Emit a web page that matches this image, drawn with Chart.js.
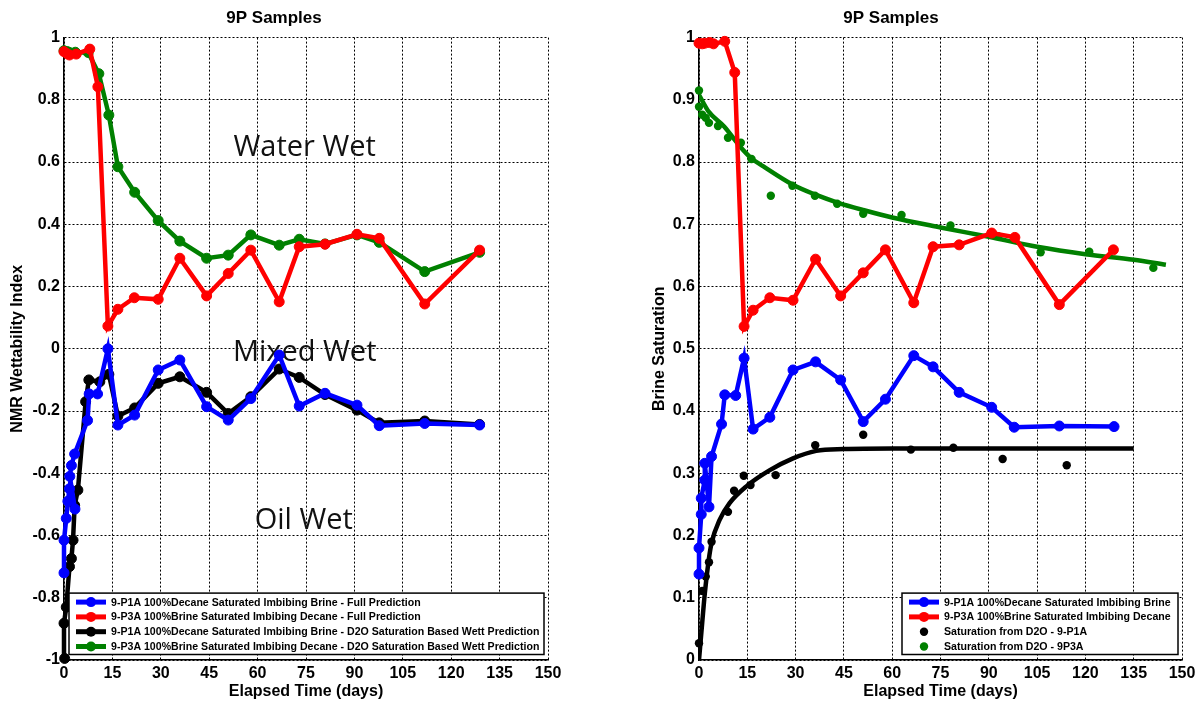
<!DOCTYPE html>
<html>
<head>
<meta charset="utf-8">
<title>9P Samples</title>
<script src="https://cdn.jsdelivr.net/npm/chart.js@4.4.0/dist/chart.umd.min.js"></script>
<style>
  body { margin: 0; background: #fff; }
  #wrap { position: relative; width: 1201px; height: 704px; }
  #left { position: absolute; left: 0; top: 0; }
  #right { position: absolute; left: 600px; top: 0; }
</style>
</head>
<body>
<div id="wrap">
  <canvas id="left" width="600" height="704"></canvas>
  <canvas id="right" width="601" height="704"></canvas>
</div>
<script>
// ---- left chart: NMR wettability index ----
var p1aFullDays = [0, 0, 0.7, 1.2, 1.7, 3.4, 1.8, 2.3, 3.3, 7.3, 7.8, 10.4, 13.6, 16.7, 21.9, 29.2, 35.9, 44.2, 50.9, 57.9, 66.7, 72.9, 80.9, 90.8, 97.7, 111.8, 128.8];
var p1aFullIndex = [-0.72, -0.615, -0.545, -0.49, -0.45, -0.515, -0.41, -0.375, -0.338, -0.23, -0.145, -0.145, 0.0, -0.245, -0.213, -0.068, -0.036, -0.186, -0.229, -0.16, -0.02, -0.184, -0.143, -0.181, -0.247, -0.24, -0.245];

var p3aFullDays = [0, 1, 1.7, 3.8, 8, 10.5, 13.6, 16.7, 21.8, 29.2, 35.9, 44.2, 50.9, 57.9, 66.7, 72.9, 80.9, 90.8, 97.7, 111.8, 128.8];
var p3aFullIndex = [0.955, 0.948, 0.944, 0.947, 0.963, 0.842, 0.073, 0.127, 0.164, 0.159, 0.291, 0.17, 0.242, 0.317, 0.151, 0.328, 0.336, 0.368, 0.355, 0.144, 0.317];

var p1aD2oDays = [0.2, 0, 0.7, 1.7, 2.3, 2.8, 3.3, 4.3, 6.7, 7.7, 11.1, 13.9, 16.7, 21.9, 29.2, 35.9, 44.2, 50.9, 57.9, 66.7, 72.9, 80.9, 90.8, 97.7, 111.8, 128.8];
var p1aD2oIndex = [-0.995, -0.882, -0.83, -0.70, -0.674, -0.615, -0.503, -0.454, -0.17, -0.10, -0.106, -0.082, -0.216, -0.19, -0.111, -0.09, -0.14, -0.208, -0.154, -0.065, -0.092, -0.147, -0.197, -0.238, -0.232, -0.243];

var p3aD2oDays = [0, 1, 1.7, 3.5, 7.5, 10.8, 13.9, 16.7, 21.9, 29.2, 35.9, 44.2, 50.9, 57.9, 66.7, 72.9, 80.9, 90.8, 97.7, 111.8, 128.8];
var p3aD2oIndex = [0.958, 0.955, 0.952, 0.953, 0.952, 0.884, 0.751, 0.585, 0.503, 0.412, 0.346, 0.291, 0.301, 0.366, 0.333, 0.352, 0.337, 0.366, 0.342, 0.248, 0.310];

// ---- right chart: brine saturation ----
var p1aSatDays = [0, 0, 0.7, 0.7, 1.8, 1.8, 3.1, 3.9, 7, 8, 11.4, 14, 16.8, 22, 29.2, 36.2, 44, 51, 57.9, 66.7, 72.7, 80.8, 90.9, 97.9, 111.9, 128.9];
var p1aSat = [0.138, 0.18, 0.234, 0.26, 0.289, 0.316, 0.246, 0.327, 0.379, 0.426, 0.425, 0.485, 0.371, 0.39, 0.466, 0.479, 0.45, 0.383, 0.419, 0.489, 0.471, 0.43, 0.406, 0.374, 0.376, 0.375];

var p3aSatDays = [0, 1, 1.8, 3.3, 4.5, 8, 11.1, 14, 16.8, 22, 29.2, 36.2, 44, 51, 57.9, 66.7, 72.7, 80.8, 90.9, 98.1, 111.9, 128.7];
var p3aSat = [0.991, 0.99, 0.991, 0.992, 0.99, 0.994, 0.944, 0.536, 0.562, 0.582, 0.578, 0.644, 0.585, 0.622, 0.659, 0.574, 0.664, 0.667, 0.686, 0.679, 0.571, 0.659];

var d2oP1aDays = [0, 1, 2.1, 3.1, 3.9, 9, 10.9, 13.9, 16, 23.8, 36.1, 51, 65.8, 79, 94.3, 114.2];
var d2oP1aSat = [0.027, 0.111, 0.134, 0.157, 0.19, 0.238, 0.272, 0.296, 0.281, 0.297, 0.345, 0.362, 0.338, 0.341, 0.323, 0.313];

var d2oP3aDays = [0, 0, 1, 2.1, 3.1, 5.9, 9, 13, 16.3, 22.3, 29, 36, 42.9, 51, 62.9, 78.1, 92.9, 106.1, 121.2, 141.1];
var d2oP3aSat = [0.915, 0.889, 0.876, 0.871, 0.863, 0.858, 0.839, 0.831, 0.805, 0.746, 0.762, 0.746, 0.733, 0.717, 0.715, 0.698, 0.681, 0.655, 0.656, 0.63];

// fitted curves
var fitP1aDays = [0, 1, 1.8, 3, 3.9, 6.4, 9.5, 14.7, 22, 29.2, 36.4, 45, 60, 135];
var fitP1aSat = [0, 0.06, 0.107, 0.16, 0.188, 0.225, 0.252, 0.279, 0.305, 0.324, 0.336, 0.339, 0.34, 0.34];

var fitP3aDays = [0, 3, 7.8, 12.6, 16.3, 20, 29, 36, 43, 51, 60, 75, 90, 105, 120, 135, 145];
var fitP3aSat = [0.908, 0.881, 0.857, 0.826, 0.806, 0.793, 0.764, 0.748, 0.735, 0.723, 0.711, 0.695, 0.68, 0.664, 0.652, 0.643, 0.635];

var BLUE = '#0000ff', RED = '#ff0000', BLACK = '#000000', GREEN = '#008000';

function pts(xs, ys) {
    return xs.map(function (x, i) { return { x: x, y: ys[i] }; });
}

function lineSet(label, xs, ys, color) {
    return {
        label: label, data: pts(xs, ys), showLine: true, clip: false,
        borderColor: color, backgroundColor: color, borderWidth: 4.5,
        pointRadius: 5, pointBorderWidth: 1, pointBackgroundColor: color, pointBorderColor: color
    };
}

function dotSet(label, xs, ys, color) {
    return {
        label: label, data: pts(xs, ys), showLine: false, clip: false,
        borderColor: color, backgroundColor: color,
        pointRadius: 4.2, pointBorderWidth: 0, pointBackgroundColor: color
    };
}

function fitSet(xs, ys, color) {
    return {
        data: pts(xs, ys), showLine: true, borderColor: color, borderWidth: 4.5,
        pointRadius: 0, cubicInterpolationMode: 'monotone'
    };
}

// legend box drawn inside the plot area, bottom right
var boxLegend = {
    id: 'boxLegend',
    afterDatasetsDraw: function (chart, args, opts) {
        var ctx = chart.ctx, area = chart.chartArea;
        var items = chart.data.datasets.filter(function (ds) { return ds.label; });
        var h = opts.firstRow + (items.length - 1) * opts.rowH + opts.lastPad;
        var x0 = area.right - opts.right - opts.width;
        var y0 = area.bottom - opts.bottom - h;
        ctx.save();
        ctx.fillStyle = '#fff';
        ctx.fillRect(x0, y0, opts.width, h);
        ctx.strokeStyle = '#000';
        ctx.lineWidth = 1.5;
        ctx.strokeRect(x0, y0, opts.width, h);
        ctx.font = opts.font;
        ctx.textBaseline = 'middle';
        items.forEach(function (ds, i) {
            var cy = y0 + opts.firstRow + i * opts.rowH;
            if (ds.showLine) {
                ctx.strokeStyle = ds.borderColor;
                ctx.lineWidth = 5;
                ctx.beginPath();
                ctx.moveTo(x0 + 7, cy);
                ctx.lineTo(x0 + 37, cy);
                ctx.stroke();
            }
            ctx.fillStyle = ds.borderColor;
            ctx.beginPath();
            ctx.arc(x0 + 22, cy, ds.pointRadius, 0, Math.PI * 2);
            ctx.fill();
            ctx.fillStyle = '#000';
            ctx.fillText(ds.label, x0 + 42, cy + 0.5);
        });
        ctx.restore();
    }
};

// wettability zone names
var zoneText = {
    id: 'zoneText',
    beforeDatasetsDraw: function (chart, args, opts) {
        if (!opts.items) return;
        var ctx = chart.ctx, sx = chart.scales.x, sy = chart.scales.y;
        ctx.save();
        ctx.font = opts.font;
        ctx.fillStyle = opts.color;
        ctx.textAlign = 'center';
        ctx.textBaseline = 'middle';
        opts.items.forEach(function (it) {
            ctx.fillText(it.text, sx.getPixelForValue(it.x), sy.getPixelForValue(it.y));
        });
        ctx.restore();
    }
};

function tickFmt(v) {
    return String(+v.toFixed(2));
}

function makeOptions(yMin, yMax, yStep, yTitle, yWidth, yTitlePad, padRight, legendWidth, zones) {
    return {
        responsive: false,
        animation: false,
        devicePixelRatio: 1,
        layout: { padding: { left: 0, right: padRight, top: 0, bottom: 0 } },
        plugins: {
            legend: { display: false },
            tooltip: { enabled: false },
            title: {
                display: true, text: '9P Samples', color: '#000',
                font: { family: 'Liberation Sans', size: 17, weight: 'bold' },
                padding: { top: 8, bottom: 9.2 }
            },
            boxLegend: {
                width: legendWidth, right: 4, bottom: 5.5, firstRow: 9, rowH: 14.8, lastPad: 8,
                font: 'bold 10.6px "Liberation Sans"'
            },
            zoneText: { items: zones, font: '29px "Open Sans"', color: '#111' }
        },
        scales: {
            x: {
                type: 'linear', min: 0, max: 150,
                ticks: { stepSize: 15, color: '#000', padding: 4, font: { family: 'Liberation Sans', size: 16, weight: 'bold' } },
                grid: { color: '#000', lineWidth: 1, drawTicks: false },
                border: { display: true, color: '#000', width: 1.5, dash: [2, 2] },
                title: {
                    display: true, text: 'Elapsed Time (days)', color: '#000',
                    font: { family: 'Liberation Sans', size: 16, weight: 'bold' }, padding: { top: 0, bottom: 3 }
                },
                afterFit: function (s) { s.height = 44; }
            },
            y: {
                type: 'linear', min: yMin, max: yMax,
                ticks: { stepSize: yStep, color: '#000', padding: 4, callback: tickFmt, font: { family: 'Liberation Sans', size: 16, weight: 'bold' } },
                grid: { color: '#000', lineWidth: 1, drawTicks: false },
                border: { display: true, color: '#000', width: 1.5, dash: [2, 2] },
                title: {
                    display: true, text: yTitle, color: '#000',
                    font: { family: 'Liberation Sans', size: 16, weight: 'bold' }, padding: { top: yTitlePad, bottom: 0 }
                },
                afterFit: function (s) { s.width = yWidth; }
            }
        }
    };
}

new Chart(document.getElementById('left'), {
    type: 'scatter',
    data: {
        datasets: [
            lineSet('9-P1A 100%Decane Saturated Imbibing Brine - Full Prediction', p1aFullDays, p1aFullIndex, BLUE),
            lineSet('9-P3A 100%Brine Saturated Imbibing Decane - Full Prediction', p3aFullDays, p3aFullIndex, RED),
            lineSet('9-P1A 100%Decane Saturated Imbibing Brine - D2O Saturation Based Wett Prediction', p1aD2oDays, p1aD2oIndex, BLACK),
            lineSet('9-P3A 100%Brine Saturated Imbibing Decane - D2O Saturation Based Wett Prediction', p3aD2oDays, p3aD2oIndex, GREEN)
        ]
    },
    options: makeOptions(-1, 1, 0.2, 'NMR Wettability Index', 64, 8, 52, 475, [
        { text: 'Water Wet', x: 74.6, y: 0.645 },
        { text: 'Mixed Wet', x: 74.6, y: -0.013 },
        { text: 'Oil Wet', x: 74.3, y: -0.551 }
    ]),
    plugins: [zoneText, boxLegend]
});

new Chart(document.getElementById('right'), {
    type: 'scatter',
    data: {
        datasets: [
            lineSet('9-P1A 100%Decane Saturated Imbibing Brine', p1aSatDays, p1aSat, BLUE),
            lineSet('9-P3A 100%Brine Saturated Imbibing Decane', p3aSatDays, p3aSat, RED),
            dotSet('Saturation from D2O - 9-P1A', d2oP1aDays, d2oP1aSat, BLACK),
            dotSet('Saturation from D2O - 9P3A', d2oP3aDays, d2oP3aSat, GREEN),
            fitSet(fitP1aDays, fitP1aSat, BLACK),
            fitSet(fitP3aDays, fitP3aSat, GREEN)
        ]
    },
    options: makeOptions(0, 1, 0.1, 'Brine Saturation', 99, 50, 19, 276, null),
    plugins: [zoneText, boxLegend]
});
</script>
</body>
</html>
